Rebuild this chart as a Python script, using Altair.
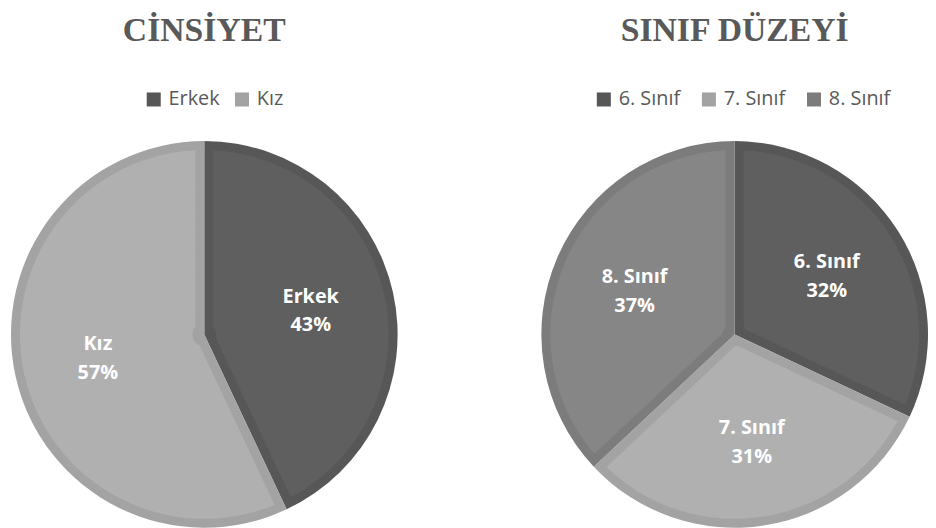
import altair as alt
import pandas as pd

# ---- data ----
gender_titles = ["CİNSİYET"]
gender_labels = ["Erkek", "Kız"]
gender_values = [43, 57]

grade_titles = ["SINIF DÜZEYİ"]
grade_labels = ["6. Sınıf", "7. Sınıf", "8. Sınıf"]
grade_values = [32, 31, 37]

# ---- styles ----
BORDER = {"Erkek": "#575757", "Kız": "#a3a3a3",
          "6. Sınıf": "#575757", "7. Sınıf": "#a3a3a3", "8. Sınıf": "#7c7c7c"}
FILL = {"Erkek": "#5f5f5f", "Kız": "#b0b0b0",
        "6. Sınıf": "#5f5f5f", "7. Sınıf": "#b0b0b0", "8. Sınıf": "#868686"}

PH = 512
R = 195
INSET = 9
FONT = "Open Sans"


def panel(title, labels, values, pw, cx, cy, legend_x, legend_y, col_pad):
    df = pd.DataFrame({"cat": labels, "value": values, "idx": list(range(len(labels)))})
    df["lab"] = [f"{c}\n{v}%" for c, v in zip(labels, values)]
    tdf = pd.DataFrame({"t": title})
    base = alt.Chart(df)
    theta = alt.Theta("value:Q", stack=True)
    order = alt.Order("idx:O")

    outer = base.mark_arc(outerRadius=R, strokeWidth=0).encode(
        theta=theta, order=order, x=alt.value(cx), y=alt.value(cy),
        color=alt.Color(
            "cat:N",
            scale=alt.Scale(domain=labels, range=[BORDER[c] for c in labels]),
            legend=alt.Legend(
                title=None, orient="none", legendX=legend_x, legendY=legend_y,
                direction="horizontal", symbolType="square", symbolSize=200,
                symbolStrokeWidth=0, symbolOpacity=1, labelFont=FONT,
                labelFontSize=20, labelColor="#595959", labelOffset=5,
                columnPadding=col_pad, labelLimit=200,
            ),
        ),
    )
    inner = base.mark_arc(
        outerRadius=R - INSET, innerRadius=12,
        padAngle=2 * INSET / (R - INSET), strokeWidth=0,
    ).encode(
        theta=theta, order=order, x=alt.value(cx), y=alt.value(cy),
        fill=alt.Fill("cat:N",
                      scale=alt.Scale(domain=labels, range=[FILL[c] for c in labels]),
                      legend=None),
    )
    text = base.mark_text(
        font=FONT, fontSize=20, fontWeight="bold", color="white",
        lineBreak="\n", lineHeight=29, align="center", baseline="middle", dy=-14,
    ).encode(
        theta=theta, order=order, x=alt.value(cx), y=alt.value(cy),
        radius=alt.value(110), text="lab:N",
    )
    ttl = alt.Chart(tdf).mark_text(
        font="Liberation Serif", fontSize=34, fontWeight="bold",
        color="#595959", align="center", baseline="alphabetic",
    ).encode(x=alt.value(cx), y=alt.value(31), text="t:N")

    return alt.layer(outer, inner, text, ttl).properties(width=pw, height=PH)


left = panel(gender_titles, gender_labels, gender_values, 440, 198, 327, 137, 80, 12)
right = panel(grade_titles, grade_labels, grade_values, 480, 293, 327, 151, 80, 19)

chart = alt.hconcat(left, right, spacing=0).resolve_scale(
    color="independent", fill="independent", theta="independent"
).resolve_legend(color="independent").properties(
    padding=0
).configure_view(stroke=None)

chart.save("out.html", embed_options={"renderer": "svg", "actions": False})
